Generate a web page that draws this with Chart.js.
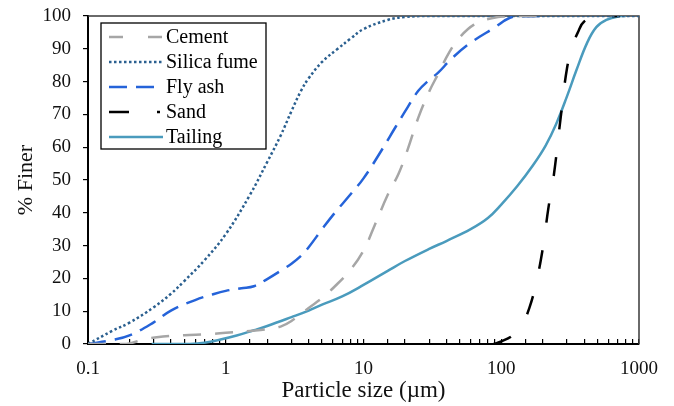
<!DOCTYPE html>
<html>
<head>
<meta charset="utf-8">
<script src="https://cdn.jsdelivr.net/npm/chart.js@4.4.1/dist/chart.umd.min.js"></script>
<style>
  html, body { margin: 0; padding: 0; background: #fff; }
  #wrap { width: 674px; height: 406px; position: relative; }
</style>
</head>
<body>
<div id="wrap"><canvas id="psd"></canvas></div>
<script>
// ---- data (x = particle size in µm, y = % finer) ----
const cementX = [0.1, 0.19, 0.25, 0.35, 0.5, 0.75, 1, 1.5, 2, 2.5, 3, 4, 5, 6, 8, 10, 12, 15, 18, 21, 25, 30, 35, 42, 50, 63, 85, 116, 200];
const cementY = [0, 0, 1.3, 2.3, 2.7, 3.0, 3.4, 4.0, 4.5, 5.3, 7, 11, 14, 17, 22.5, 28.5, 36, 45.5, 52, 59.5, 69, 77, 82.5, 89, 93.5, 97.3, 99.3, 100, 100];

const silicaX = [0.1, 0.15, 0.2, 0.3, 0.4, 0.5, 0.7, 1, 1.5, 2, 2.5, 3, 3.5, 4, 5, 6.5, 8, 10, 15, 20, 30, 1000];
const silicaY = [0, 4.0, 6.5, 11.2, 15.3, 19.2, 25.5, 33.5, 45.5, 55.5, 63.5, 71, 77, 81, 86, 90, 93, 96, 98.8, 99.7, 100, 100];

const flyAshX = [0.1, 0.15, 0.2, 0.3, 0.4, 0.6, 0.8, 1, 1.3, 1.6, 2, 2.5, 3, 3.5, 4, 5, 6, 8, 10, 13.5, 17, 21, 25, 30, 35, 43.6, 59.3, 87.5, 122, 200];
const flyAshY = [0, 1.2, 2.6, 6.6, 10.2, 13.4, 15.1, 16.2, 17.0, 17.6, 19.8, 22.3, 24.5, 26.8, 29.5, 35, 39.3, 45.5, 50.5, 59, 66, 72.3, 77.2, 80.5, 82.8, 87, 91.7, 96.2, 99.8, 100];

const sandX = [88, 100, 120, 140, 160, 180, 200, 220, 240, 270, 300, 330, 360, 400, 500, 730];
const sandY = [0, 0.8, 2.5, 5.5, 11, 19, 29, 41.5, 51, 69, 84, 91, 95, 98.3, 99.8, 100];

const tailingX = [0.29, 0.4, 0.55, 0.7, 0.9, 1.2, 1.6, 2, 3, 4, 5, 7, 10, 15, 20, 30, 40, 60, 80, 100, 130, 170, 210, 250, 300, 350, 420, 490, 580, 730, 800];
const tailingY = [0, 0, 0, 0.4, 1.3, 2.6, 4.2, 5.5, 8.2, 10.2, 12, 14.5, 18, 22.3, 25.3, 29, 31.4, 35, 38.4, 42.5, 48, 54.5, 60.5, 67, 75.5, 83.3, 91.8, 96.6, 98.8, 100, 100];

const seriesNames = ['Cement', 'Silica fume', 'Fly ash', 'Sand', 'Tailing'];
const xTickLabels = [0.1, 1, 10, 100, 1000];
const yTicks = { min: 0, max: 100, step: 10 };

const toPoints = (xs, ys) => xs.map((x, i) => ({ x: x, y: ys[i] }));
const SERIF = "'Liberation Serif', 'Times New Roman', serif";

// ---- legend drawn inside the plot, Excel style ----
const boxLegend = {
    id: 'boxLegend',
    afterDraw(chart) {
        const ctx = chart.ctx;
        const bx = 101, by = 23, bw = 165, bh = 126;
        ctx.save();
        ctx.fillStyle = '#fff';
        ctx.fillRect(bx, by, bw, bh);
        ctx.strokeStyle = '#000';
        ctx.lineWidth = 1.3;
        ctx.strokeRect(bx, by, bw, bh);
        ctx.font = '20px ' + SERIF;
        ctx.textBaseline = 'middle';
        chart.data.datasets.forEach((ds, i) => {
            const yy = 37 + i * 25;
            ctx.beginPath();
            ctx.strokeStyle = ds.borderColor;
            ctx.lineWidth = ds.borderWidth;
            ctx.setLineDash(ds.legendDash || ds.borderDash || []);
            ctx.moveTo(109, yy);
            ctx.lineTo(163, yy);
            ctx.stroke();
            ctx.setLineDash([]);
            ctx.fillStyle = '#000';
            ctx.fillText(ds.label, 166, yy + 1);
        });
        ctx.restore();
    }
};

// top and right frame lines
const frame = {
    id: 'frame',
    beforeDatasetsDraw(chart) {
        const a = chart.chartArea, ctx = chart.ctx;
        ctx.save();
        ctx.strokeStyle = '#3a3a3a';
        ctx.lineWidth = 1.5;
        ctx.beginPath();
        ctx.moveTo(a.left, a.top);
        ctx.lineTo(a.right, a.top);
        ctx.lineTo(a.right, a.bottom);
        ctx.stroke();
        ctx.restore();
    }
};

const common = { fill: false, pointRadius: 0, borderWidth: 2.5, tension: 0.4, borderCapStyle: 'butt' };

new Chart(document.getElementById('psd'), {
    type: 'line',
    data: {
        datasets: [
            { ...common, label: seriesNames[0], data: toPoints(cementX, cementY), borderColor: '#a6a6a6', borderDash: [18, 14], legendDash: [14, 25] },
            { ...common, label: seriesNames[1], data: toPoints(silicaX, silicaY), borderColor: '#2a5f8f', borderDash: [2.5, 2.5] },
            { ...common, label: seriesNames[2], data: toPoints(flyAshX, flyAshY), borderColor: '#2563d9', borderDash: [18, 9] },
            { ...common, label: seriesNames[3], data: toPoints(sandX, sandY), borderColor: '#000000', borderDash: [19, 28], legendDash: [20, 28, 3, 30] },
            { ...common, label: seriesNames[4], data: toPoints(tailingX, tailingY), borderColor: '#4a9bbd', borderDash: [] }
        ]
    },
    options: {
        responsive: true,
        maintainAspectRatio: false,
        animation: false,
        layout: { padding: { top: 16, right: 35, left: 0, bottom: 0 } },
        plugins: { legend: { display: false }, tooltip: { enabled: false } },
        scales: {
            x: {
                type: 'logarithmic',
                min: 0.1,
                max: 1000,
                afterFit: s => { s.height = 62; s.paddingLeft = 0; s.paddingRight = 0; },
                border: { color: '#000', width: 2 },
                grid: { drawOnChartArea: false, drawTicks: true, tickLength: -5, color: '#000', lineWidth: 1.2 },
                ticks: {
                    autoSkip: false, maxRotation: 0, padding: 19, color: '#111',
                    font: { family: SERIF, size: 19 },
                    callback: v => {
                        const hit = xTickLabels.find(t => Math.abs(t - v) < t * 1e-6);
                        return hit !== undefined ? String(hit) : '';
                    }
                },
                title: { display: true, text: 'Particle size (µm)', color: '#111', font: { family: SERIF, size: 23 }, padding: { top: 0, bottom: 1 } }
            },
            y: {
                min: yTicks.min,
                max: yTicks.max,
                afterFit: s => { s.width = 88; s.paddingTop = 0; s.paddingBottom = 0; },
                border: { color: '#000', width: 2 },
                grid: { drawOnChartArea: false, drawTicks: true, tickLength: 5, color: '#000', lineWidth: 1.2 },
                ticks: { stepSize: yTicks.step, padding: 12, color: '#111', font: { family: SERIF, size: 19 } },
                title: { display: true, text: '% Finer', color: '#111', font: { family: SERIF, size: 22 }, padding: { top: 13, bottom: 0 } }
            }
        }
    },
    plugins: [frame, boxLegend]
});
</script>
</body>
</html>
